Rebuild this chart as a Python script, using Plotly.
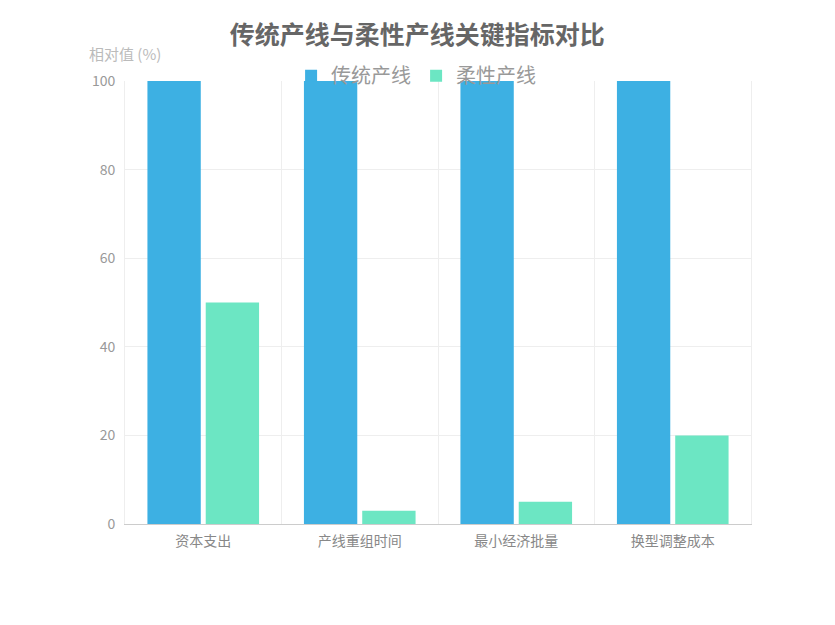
import plotly.graph_objects as go

# Data
categories = ["资本支出", "产线重组时间", "最小经济批量", "换型调整成本"]
traditional = [100, 100, 100, 100]
flexible = [50, 3, 5, 20]
series_names = ["传统产线", "柔性产线"]
y_ticks = [0, 20, 40, 60, 80, 100]

font_family = "Noto Sans CJK SC, Noto Sans, sans-serif"

fig = go.Figure()
fig.add_trace(go.Bar(x=categories, y=traditional, name=series_names[0],
                     marker=dict(color="#3db0e3", line=dict(width=0))))
fig.add_trace(go.Bar(x=categories, y=flexible, name=series_names[1],
                     marker=dict(color="#6ce6c3", line=dict(width=0))))

# page body has an 8px margin, so plot margins are shifted by that much
fig.update_layout(
    width=835, height=625,
    paper_bgcolor="white", plot_bgcolor="white",
    font=dict(family=font_family, color="#999999"),
    margin=dict(l=117, r=92, t=73, b=109),
    barmode="group", bargap=0.255, bargroupgap=0.085,
    title=dict(text="<b>传统产线与柔性产线关键指标对比</b>", x=0.49, xanchor="center",
               y=0.957, yanchor="middle",
               font=dict(size=25, color="#666666", family=font_family)),
    legend=dict(orientation="h", x=0.465, xanchor="center", y=1.012, yanchor="middle",
                font=dict(size=20, color="#999999"), bgcolor="rgba(0,0,0,0)",
                itemwidth=30, traceorder="normal"),
    showlegend=True,
)

fig.update_xaxes(
    type="category", tickson="boundaries", showgrid=True, gridcolor="#eeeeee",
    showline=True, linecolor="#cccccc", linewidth=1, ticks="",
    ticklabelstandoff=4,
    tickfont=dict(size=14, color="#888888"), zeroline=False,
)
fig.update_yaxes(
    range=[0, 100], tickvals=y_ticks, showgrid=True, gridcolor="#eeeeee",
    showline=True, linecolor="#eeeeee", mirror=True, zeroline=False, ticks="",
    ticklabelstandoff=6,
    tickfont=dict(size=14, color="#999999"),
)

fig.add_annotation(text="相对值 (%)", xref="paper", yref="paper", x=0.0, y=1.063,
                   xanchor="center", yanchor="middle", showarrow=False,
                   font=dict(size=15, color="#bbbbbb", family=font_family))

fig.write_html("out.html")
